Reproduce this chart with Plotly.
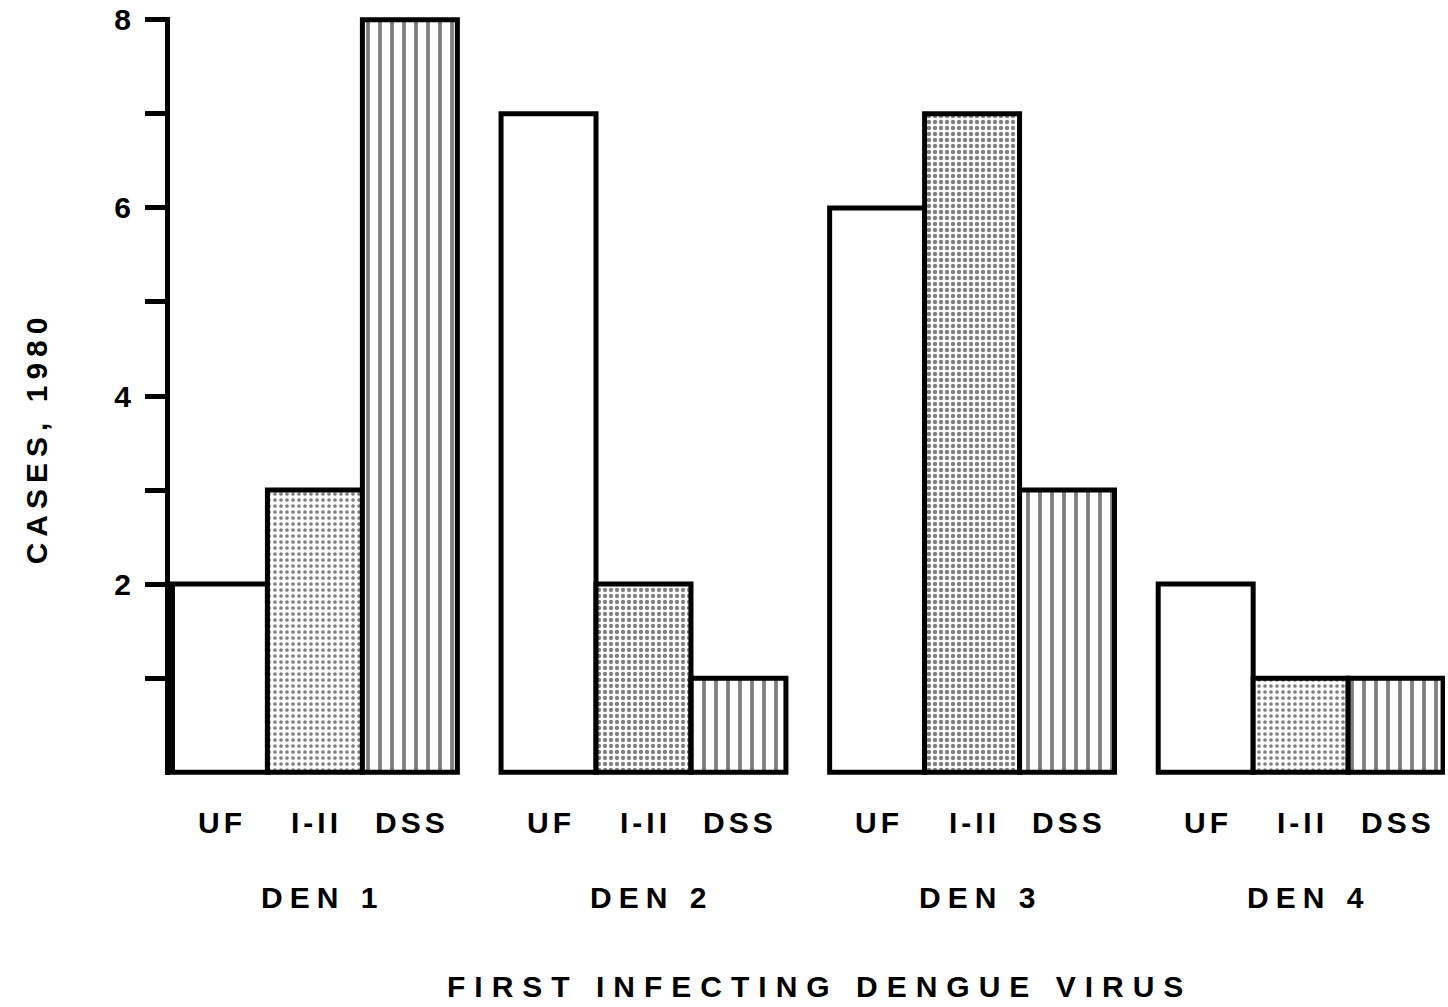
import plotly.graph_objects as go

# ---- data ----
groups = ["DEN 1", "DEN 2", "DEN 3", "DEN 4"]
categories = ["UF", "I-II", "DSS"]
uf_cases = [2, 7, 6, 2]
grade12_cases = [3, 2, 7, 1]
dss_cases = [8, 1, 3, 1]
y_tickvals = [1, 2, 3, 4, 5, 6, 7, 8]
y_ticktext = ["", "2", "", "4", "", "6", "", "8"]
x_title = "FIRST INFECTING DENGUE VIRUS"
y_title = "CASES, 1980"

# ---- layout constants ----
GROUP_STEP = 3.46  # spacing between groups in bar widths
FONT = "Liberation Sans, Arial, Helvetica, sans-serif"
FS = 30
LW = 5


def positions(j):
    return [g * GROUP_STEP + j for g in range(len(groups))]


def spaced(text, px):
    return f'<span style="letter-spacing:{px}px">{text}</span>'


series = [uf_cases, grade12_cases, dss_cases]
patterns = [
    dict(shape="", fgcolor="black", bgcolor="white"),
    dict(shape=".", fgcolor="black", bgcolor="white", size=6, solidity=[0.3, 0.4, 0.42, 0.3]),
    dict(shape="|", fgcolor="black", bgcolor="white", size=12, solidity=0.32),
]

fig = go.Figure()
for j, (name, vals, pat) in enumerate(zip(categories, series, patterns)):
    fig.add_trace(go.Bar(
        x=positions(j), y=vals, width=1, name=name,
        marker=dict(color="white", pattern=pat, line=dict(color="black", width=LW)),
        showlegend=False,
    ))

tf = dict(family=FONT, size=FS, color="black", weight=700)
annotations = []
for j, cat in enumerate(categories):
    for xv in positions(j):
        annotations.append(dict(
            x=xv, y=0, xref="x", yref="y", text=spaced(cat, 4), showarrow=False,
            yanchor="middle", yshift=-50, xshift=2, font=tf))
for g, name in enumerate(groups):
    annotations.append(dict(
        x=g * GROUP_STEP + 1, y=0, xref="x", yref="y", text=spaced(name, 7), showarrow=False,
        yanchor="middle", yshift=-125, xshift=8, font=tf))
annotations.append(dict(
    x=0.5, y=0, xref="paper", yref="y", text=spaced(x_title, 9), showarrow=False,
    yanchor="middle", yshift=-214, xshift=12, font=tf))
annotations.append(dict(
    x=0, y=3.55, xref="paper", yref="y", text=spaced(y_title, 6), showarrow=False,
    textangle=-90, xanchor="center", yanchor="middle", xshift=-134, font=tf))

fig.update_layout(
    width=1448, height=1007,
    margin=dict(l=170, r=3, t=17, b=232),
    paper_bgcolor="white", plot_bgcolor="white",
    barmode="overlay",
    annotations=annotations,
    xaxis=dict(range=[-0.526, 12.9], visible=False, showgrid=False, zeroline=False),
    yaxis=dict(range=[-0.03, 8.03], showgrid=False, zeroline=False,
               showline=True, linecolor="black", linewidth=5,
               ticks="outside", ticklen=20, tickwidth=5, tickcolor="black",
               tickvals=y_tickvals, ticktext=y_ticktext, ticklabelstandoff=8,
               tickfont=tf),
)

fig.write_html("out.html", config={"displayModeBar": False},
               post_script="document.body.style.margin='0';")
